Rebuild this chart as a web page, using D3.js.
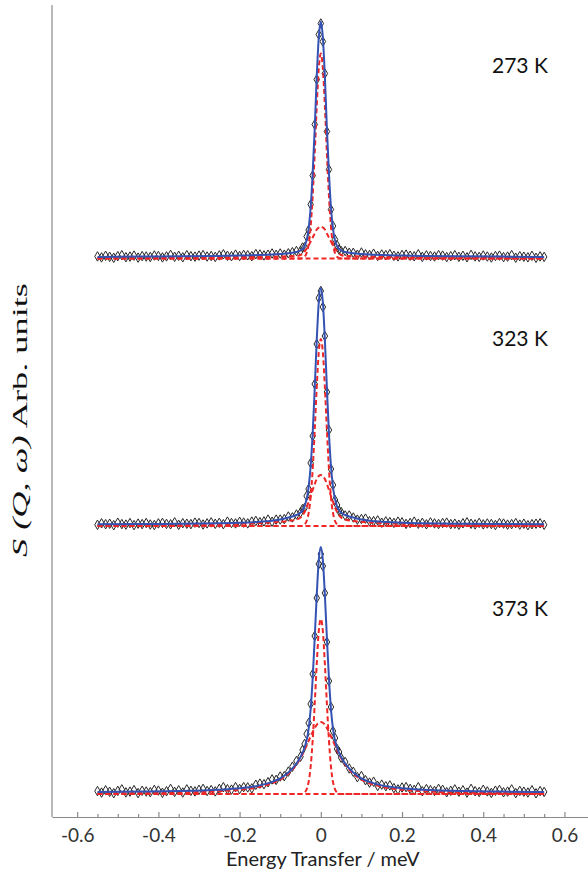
<!DOCTYPE html>
<html>
<head>
<meta charset="utf-8">
<script src="https://cdn.jsdelivr.net/npm/d3@7"></script>
<style>
  body { margin: 0; background: #fff; }
</style>
</head>
<body>
<div id="chart"></div>
<script>
// energy transfer (meV) and intensities (arb. units, measured above each spectrum's background)
const temperatures = ["273 K", "323 K", "373 K"];
const baselines = [558.5, 291, 23];

const majorTicks = [-0.6, -0.4, -0.2, 0, 0.2, 0.4, 0.6];
const majorLabels = ["-0.6", "-0.4", "-0.2", "0", "0.2", "0.4", "0.6"];
const minorTicks = [-0.55, -0.5, -0.45, -0.35, -0.3, -0.25, -0.15, -0.1, -0.05,
  0.05, 0.1, 0.15, 0.25, 0.3, 0.35, 0.45, 0.5, 0.55];

// grid of the fitted curves
const compEnergy = [-0.55, -0.45, -0.35, -0.25, -0.2, -0.15, -0.12, -0.1, -0.08, -0.06, -0.05,
  -0.04, -0.03, -0.025, -0.02, -0.015, -0.01, -0.005, 0, 0.005, 0.01, 0.015, 0.02, 0.025, 0.03,
  0.04, 0.05, 0.06, 0.08, 0.1, 0.12, 0.15, 0.2, 0.25, 0.35, 0.45, 0.55];

const narrow273 = [0, 0, 0, 0, 0, 0, 0, 0, 0, 0, 0, 1.8, 14, 32, 63, 105, 153, 190, 205,
  190, 153, 105, 63, 32, 14, 1.8, 0, 0, 0, 0, 0, 0, 0, 0, 0, 0, 0];
const broad273 = [0.6, 0.8, 1, 1.2, 1.4, 1.6, 1.8, 2, 2.2, 2.5, 3.5, 7, 13, 17, 21, 25, 29, 31, 32,
  31, 29, 25, 21, 17, 13, 7, 3.5, 2.5, 2.2, 2, 1.8, 1.6, 1.4, 1.2, 1, 0.8, 0.6];
const fit273 = [1.6, 1.9, 2.2, 2.6, 3.0, 3.5, 4.0, 4.5, 5.2, 6.5, 8, 12.3, 30, 51, 86, 130, 182, 221, 237,
  221, 182, 130, 86, 51, 30, 12.3, 8, 6.5, 5.2, 4.5, 4.0, 3.5, 3.0, 2.6, 2.2, 1.9, 1.6];

const narrow323 = [0, 0, 0, 0, 0, 0, 0, 0, 0, 0, 0, 1.6, 13, 29, 57, 96, 139, 174, 187,
  174, 139, 96, 57, 29, 13, 1.6, 0, 0, 0, 0, 0, 0, 0, 0, 0, 0, 0];
const broad323 = [0.8, 1.0, 1.3, 1.8, 2.2, 3, 3.6, 4.2, 5, 6.5, 8.5, 14, 24, 30, 36, 42, 47, 50, 51,
  50, 47, 42, 36, 30, 24, 14, 8.5, 6.5, 5, 4.2, 3.6, 3, 2.2, 1.8, 1.3, 1.0, 0.8];
const fit323 = [1.7, 1.9, 2.2, 2.7, 3.2, 4.3, 5.3, 6.5, 8.5, 11, 13.5, 19.6, 39, 60, 93, 138, 186, 224, 238,
  224, 186, 138, 93, 60, 39, 19.6, 13.5, 11, 8.5, 6.5, 5.3, 4.3, 3.2, 2.7, 2.2, 1.9, 1.7];

const narrow373 = [0, 0, 0, 0, 0, 0, 0, 0, 0, 0, 0, 1.5, 12, 27.5, 54, 90, 130, 163, 175,
  163, 130, 90, 54, 27.5, 12, 1.5, 0, 0, 0, 0, 0, 0, 0, 0, 0, 0, 0];
const broad373 = [0.6, 0.9, 1.4, 2.8, 4.2, 7.2, 10.7, 14.4, 20.2, 29.5, 36, 43.9, 53, 57.6, 62, 66, 69.2, 71.3, 72,
  71.3, 69.2, 66, 62, 57.6, 53, 43.9, 36, 29.5, 20.2, 14.4, 10.7, 7.2, 4.2, 2.8, 1.4, 0.9, 0.6];
const fit373 = [2.1, 2.4, 2.9, 4.3, 5.7, 8.6, 12.1, 15.7, 21.4, 30.5, 37, 46.5, 65, 85, 116, 156, 199, 234, 247,
  234, 199, 156, 116, 85, 65, 46.5, 37, 30.5, 21.4, 15.7, 12.1, 8.6, 5.7, 4.3, 2.9, 2.4, 2.1];

// measured points
const obsEnergy = [-0.55, -0.54, -0.53, -0.52, -0.51, -0.5, -0.49, -0.48, -0.47, -0.46,
  -0.45, -0.44, -0.43, -0.42, -0.41, -0.4, -0.39, -0.38, -0.37, -0.36,
  -0.35, -0.34, -0.33, -0.32, -0.31, -0.3, -0.29, -0.28, -0.27, -0.26,
  -0.25, -0.24, -0.23, -0.22, -0.21, -0.2, -0.19, -0.18, -0.17, -0.16,
  -0.15, -0.14, -0.13, -0.12, -0.11, -0.1, -0.09, -0.08, -0.07, -0.06, -0.05,
  -0.045, -0.04, -0.035, -0.03, -0.025, -0.02, -0.015, -0.01, -0.005, 0,
  0.005, 0.01, 0.015, 0.02, 0.025, 0.03, 0.035, 0.04, 0.045,
  0.05, 0.06, 0.07, 0.08, 0.09, 0.1, 0.11, 0.12, 0.13, 0.14,
  0.15, 0.16, 0.17, 0.18, 0.19, 0.2, 0.21, 0.22, 0.23, 0.24,
  0.25, 0.26, 0.27, 0.28, 0.29, 0.3, 0.31, 0.32, 0.33, 0.34,
  0.35, 0.36, 0.37, 0.38, 0.39, 0.4, 0.41, 0.42, 0.43, 0.44,
  0.45, 0.46, 0.47, 0.48, 0.49, 0.5, 0.51, 0.52, 0.53, 0.54, 0.55];

const obs273 = [2.1, 1.1, 2.7, 1.7, 0.7, 2.3, 3.3, 1.3, 1.9, 2.9,
  0.9, 2.4, 2.0, 1.5, 3.0, 2.5, 1.1, 2.1, 3.6, 1.7,
  2.7, 1.2, 3.3, 2.3, 1.9, 2.9, 3.4, 2.0, 2.5, 1.6,
  3.1, 4.2, 2.7, 2.3, 3.9, 2.5, 3.6, 3.2, 2.3, 4.4,
  4.0, 3.1, 3.8, 5.0, 3.7, 5.0, 3.8, 5.2, 6.3, 7.5, 7.5,
  11, 11.3, 22, 28.5, 54, 83, 134, 179, 224, 235,
  217, 185, 127, 89, 49, 32.5, 19, 13.3, 9,
  7.5, 7.5, 5.8, 5.7, 3.8, 6.0, 4.2, 3.5, 4.8, 2.6,
  4.0, 3.4, 4.3, 2.7, 2.1, 3.5, 3.9, 2.8, 2.2, 4.2,
  1.6, 3.1, 2.5, 2.0, 3.4, 2.9, 1.4, 2.3, 3.3, 1.7,
  2.7, 1.2, 3.6, 2.1, 1.6, 3.0, 2.0, 1.0, 2.5, 2.9,
  1.4, 1.9, 3.4, 0.8, 2.3, 1.8, 1.2, 2.7, 0.7, 2.1, 1.6];

const obs323 = [1.2, 2.7, 1.8, 2.3, 0.8, 3.3, 1.9, 1.4, 2.9, 0.9,
  2.4, 1.9, 3.0, 1.5, 1.0, 2.6, 3.1, 2.1, 1.7, 3.7,
  1.2, 2.8, 2.3, 1.9, 3.4, 3.0, 1.5, 2.6, 3.6, 2.2,
  3.2, 1.8, 4.4, 3.0, 2.6, 4.2, 3.4, 2.6, 4.4, 5.1,
  3.8, 4.6, 6.4, 4.3, 6.4, 6.5, 6.9, 9.5, 8.6, 11.5, 13.5,
  17, 18, 30, 37, 63, 90, 142, 182, 228, 235,
  219, 190, 134, 96, 57, 41, 26, 21, 15,
  14.0, 10.5, 10.6, 8.5, 6.4, 7.0, 7.4, 4.8, 4.9, 5.6,
  3.3, 4.6, 3.9, 3.1, 4.4, 3.7, 2.1, 3.0, 4.4, 2.3,
  3.2, 1.7, 3.6, 2.6, 2.0, 3.0, 3.4, 1.9, 2.3, 1.3,
  2.7, 3.7, 2.2, 1.6, 3.1, 1.6, 2.5, 2.0, 1.0, 2.9,
  2.4, 1.4, 1.9, 2.9, 1.4, 2.3, 0.8, 1.8, 2.3, 2.7, 1.2];

const obs373 = [2.9, 1.4, 3.7, 2.2, 0.8, 3.1, 4.6, 1.6, 2.4, 3.9,
  0.9, 3.2, 2.5, 1.8, 4.1, 3.4, 1.2, 2.8, 5.1, 2.1,
  3.7, 1.5, 4.6, 3.2, 2.6, 4.2, 5.1, 3.0, 3.9, 2.6,
  5.1, 6.8, 4.8, 4.4, 6.9, 5.0, 6.9, 6.6, 5.6, 9.3,
  10.4, 9.8, 11.8, 14.6, 14.1, 17.5, 17.8, 22.4, 27.3, 33.0, 37.3,
  44, 50, 60, 71, 90, 120, 158, 196, 230, 240,
  228, 201, 152, 113, 87, 63, 56, 45, 42,
  36.3, 32.0, 25.5, 22.2, 16.8, 18.0, 13.8, 11.4, 12.3, 8.1,
  9.4, 7.8, 8.6, 5.9, 4.6, 6.5, 6.9, 5.1, 4.1, 6.8,
  2.8, 4.9, 3.9, 3.0, 5.1, 4.2, 1.8, 3.2, 4.6, 2.3,
  3.7, 1.4, 5.1, 2.8, 2.0, 4.2, 2.6, 1.1, 3.3, 4.0,
  1.7, 2.4, 4.6, 0.9, 3.1, 2.3, 1.5, 3.7, 0.7, 2.9, 2.1];

const w = 588;
const h = 872;

const spectra = [
  { label: temperatures[0], base: baselines[0], obs: obs273, fit: fit273, narrow: narrow273, broad: broad273, labelY: 73 },
  { label: temperatures[1], base: baselines[1], obs: obs323, fit: fit323, narrow: narrow323, broad: broad323, labelY: 346 },
  { label: temperatures[2], base: baselines[2], obs: obs373, fit: fit373, narrow: narrow373, broad: broad373, labelY: 616 }
];

// Escalas
const xScale = d3.scaleLinear().domain([-0.662, 0.658]).range([52, 588]);
const yScale = d3.scaleLinear().domain([0, 812]).range([817, 5]);

const svg = d3.select("#chart").append("svg").attr("width", w).attr("height", h);

const blue = "#3452b4";
const red = "#ee2626";
const sans = "Lato, 'Open Sans', sans-serif";

const line = (base) =>
  d3.line()
    .x((d) => xScale(d[0]))
    .y((d) => yScale(base + d[1]))
    .curve(d3.curveMonotoneX);

const diamond = d3.symbol().type(d3.symbolDiamond).size(26);

spectra.forEach((s) => {
  const g = svg.append("g");

  // puntos medidos
  g.selectAll("path.pt")
    .data(obsEnergy.map((e, i) => [e, s.obs[i]]))
    .enter()
    .append("path")
    .attr("class", "pt")
    .attr("d", diamond)
    .attr("transform", (d) => `translate(${xScale(d[0])},${yScale(s.base + d[1])})`)
    .attr("fill", "none")
    .attr("stroke", "#262626")
    .attr("stroke-width", 1);

  // componentes (rojo, discontinuo)
  const bg = [[compEnergy[0], 0], [compEnergy[compEnergy.length - 1], 0]];
  [bg, compEnergy.map((e, i) => [e, s.broad[i]]), compEnergy.map((e, i) => [e, s.narrow[i]])].forEach((c) => {
    g.append("path")
      .datum(c)
      .attr("d", line(s.base))
      .attr("fill", "none")
      .attr("stroke", red)
      .attr("stroke-width", 2)
      .attr("stroke-dasharray", "5,3");
  });

  // ajuste total
  g.append("path")
    .datum(compEnergy.map((e, i) => [e, s.fit[i]]))
    .attr("d", line(s.base))
    .attr("fill", "none")
    .attr("stroke", blue)
    .attr("stroke-width", 2);

  g.append("text")
    .attr("x", 492)
    .attr("y", s.labelY)
    .attr("font-family", sans)
    .attr("font-size", 21)
    .attr("fill", "#111")
    .text(s.label);
});

// Ejes
const xAxis = d3.axisBottom(xScale)
  .tickValues(majorTicks)
  .tickFormat((d, i) => majorLabels[i])
  .tickSizeInner(-5)
  .tickSizeOuter(0)
  .tickPadding(12);

const axisG = svg.append("g")
  .attr("id", "x-axis")
  .attr("transform", `translate(0, ${yScale(0)})`)
  .call(xAxis);
axisG.select(".domain").attr("stroke", "#8a8a8a").attr("stroke-width", 1.2);
axisG.selectAll(".tick line").attr("stroke", "#8a8a8a").attr("stroke-width", 1.2);
axisG.selectAll(".tick text")
  .attr("font-family", sans)
  .attr("font-size", 19)
  .attr("fill", "#333");

const minorG = svg.append("g")
  .attr("transform", `translate(0, ${yScale(0)})`)
  .call(d3.axisBottom(xScale).tickValues(minorTicks).tickFormat("").tickSizeInner(-3).tickSizeOuter(0));
minorG.select(".domain").remove();
minorG.selectAll(".tick line").attr("stroke", "#8a8a8a").attr("stroke-width", 1.2);

svg.append("line")
  .attr("x1", xScale.range()[0]).attr("x2", xScale.range()[0])
  .attr("y1", yScale.range()[1]).attr("y2", yScale.range()[0])
  .attr("stroke", "#8a8a8a")
  .attr("stroke-width", 1.2);

svg.append("text")
  .attr("x", xScale(0) + 2)
  .attr("y", 866)
  .attr("text-anchor", "middle")
  .attr("font-family", sans)
  .attr("font-size", 20)
  .attr("fill", "#222")
  .text("Energy Transfer / meV");

const yLabel = svg.append("text")
  .attr("transform", "translate(27, 420) rotate(-90)")
  .attr("text-anchor", "middle")
  .attr("font-family", "'Liberation Serif', 'Times New Roman', serif")
  .attr("font-size", 22)
  .attr("fill", "#111")
  .attr("textLength", 274)
  .attr("lengthAdjust", "spacingAndGlyphs");
yLabel.append("tspan").attr("font-style", "italic").text("S (Q, ω)");
yLabel.append("tspan").text(" Arb. units");
</script>
</body>
</html>
